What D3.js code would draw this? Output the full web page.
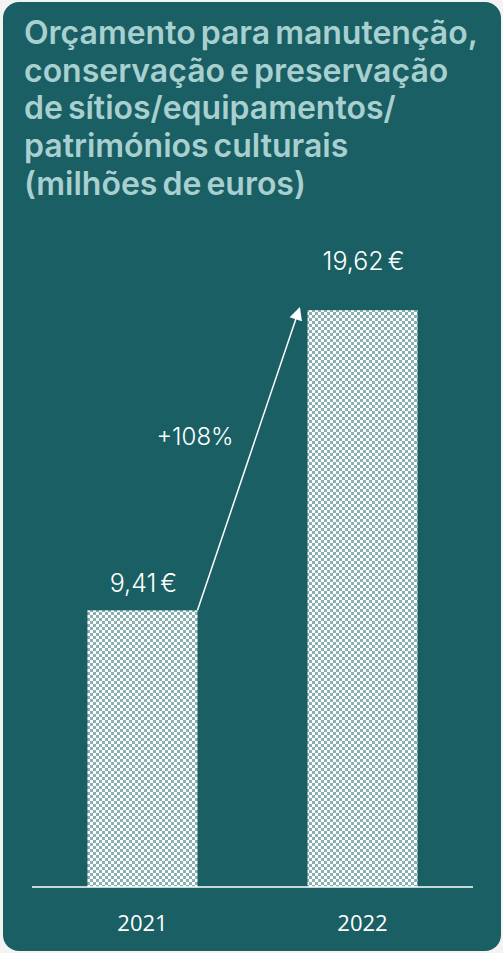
<!DOCTYPE html>
<html>
<head>
<meta charset="utf-8">
<script src="https://cdn.jsdelivr.net/npm/d3@7"></script>
<style>
  html, body { margin: 0; padding: 0; background: #f3f3f3; }
  svg { display: block; }
</style>
</head>
<body>
<svg id="chart" width="503" height="953"></svg>
<script>
// ---- data ----
const titleLines = [
  "Orçamento para manutenção,",
  "conservação e preservação",
  "de sítios/equipamentos/",
  "patrimónios culturais",
  "(milhões de euros)"
];
const years = ["2021", "2022"];
const values = [9.41, 19.62];
const valueLabels = ["9,41 €", "19,62 €"];
const changeLabel = "+108%";

// ---- setup ----
const svg = d3.select("#chart");
const panelColor = "#1a5f63";
const titleColor = "#a9d0d0";

svg.append("rect")
  .attr("x", 3).attr("y", 2)
  .attr("width", 498).attr("height", 949)
  .attr("rx", 16).attr("ry", 16)
  .attr("fill", panelColor);

// pattern: checker of white on grey-teal
const defs = svg.append("defs");
const pat = defs.append("pattern")
  .attr("id", "dots")
  .attr("patternUnits", "userSpaceOnUse")
  .attr("width", 6).attr("height", 6);
pat.append("rect").attr("width", 6).attr("height", 6).attr("fill", "#8ab1b1");
pat.append("rect").attr("x", 0).attr("y", 0).attr("width", 3).attr("height", 3).attr("fill", "#ffffff");
pat.append("rect").attr("x", 3).attr("y", 3).attr("width", 3).attr("height", 3).attr("fill", "#ffffff");

const marker = defs.append("marker")
  .attr("id", "arrow")
  .attr("viewBox", "0 0 10 10")
  .attr("refX", 9).attr("refY", 5)
  .attr("markerUnits", "userSpaceOnUse")
  .attr("markerWidth", 15).attr("markerHeight", 13)
  .attr("orient", "auto");
marker.append("path").attr("d", "M0,0 L10,5 L0,10 Z").attr("fill", "#ffffff");

// title
const tLines = svg.append("g").selectAll("text").data(titleLines).join("text")
  .attr("x", 24)
  .attr("y", (d, i) => 44 + i * 37.7)
  .attr("fill", titleColor)
  .style("font-family", "Inter, 'Noto Sans', sans-serif")
  .style("font-weight", 600)
  .style("font-size", "27px")
  .style("letter-spacing", "0px")
  .style("word-spacing", "-3px")
  .text(d => d);
const nat = tLines.node().getComputedTextLength();
tLines.style("font-size", (27 * 453 / nat) + "px");

// scales
const x = d3.scaleBand().domain(years).range([32, 473]).paddingInner(0.5).paddingOuter(0.252);
const y = d3.scaleLinear().domain([0, 20]).range([887, 299]);

// bars
svg.selectAll("rect.bar").data(values).join("rect")
  .attr("class", "bar")
  .attr("x", (d, i) => x(years[i]))
  .attr("y", d => y(d))
  .attr("width", x.bandwidth())
  .attr("height", d => y(0) - y(d))
  .attr("fill", "url(#dots)");

// axis
const axis = svg.append("g")
  .attr("transform", `translate(0,${y(0)})`)
  .call(d3.axisBottom(x).tickSize(0).tickPadding(28));
axis.select(".domain").attr("stroke", "#ffffff").attr("stroke-width", 1.5).attr("d", "M32,0H473");
axis.selectAll("text")
  .attr("fill", "#ffffff")
  .style("font-family", "'Open Sans', sans-serif")
  .style("font-size", "22px");

// value labels
const labelGap = [18, 40];
svg.selectAll("text.val").data(values).join("text")
  .attr("class", "val")
  .attr("x", (d, i) => x(years[i]) + x.bandwidth() / 2 + 1)
  .attr("y", (d, i) => y(d) - labelGap[i])
  .attr("text-anchor", "middle")
  .attr("fill", "#ffffff")
  .style("font-family", "Inter, sans-serif")
  .style("font-weight", 300)
  .style("font-size", "25px")
  .style("word-spacing", "-3px")
  .text((d, i) => valueLabels[i]);

// arrow
const x1 = x(years[0]) + x.bandwidth(), y1 = y(values[0]);
const x2 = x(years[1]) - 8, y2 = y(values[1]) - 2;
svg.append("line")
  .attr("x1", x1).attr("y1", y1)
  .attr("x2", x2).attr("y2", y2)
  .attr("stroke", "#ffffff").attr("stroke-width", 1.5)
  .attr("marker-end", "url(#arrow)");

svg.append("text")
  .attr("x", 195).attr("y", 445)
  .attr("text-anchor", "middle")
  .attr("fill", "#ffffff")
  .style("font-family", "Inter, sans-serif")
  .style("font-weight", 300)
  .style("font-size", "24px")
  .text(changeLabel);
</script>
</body>
</html>
